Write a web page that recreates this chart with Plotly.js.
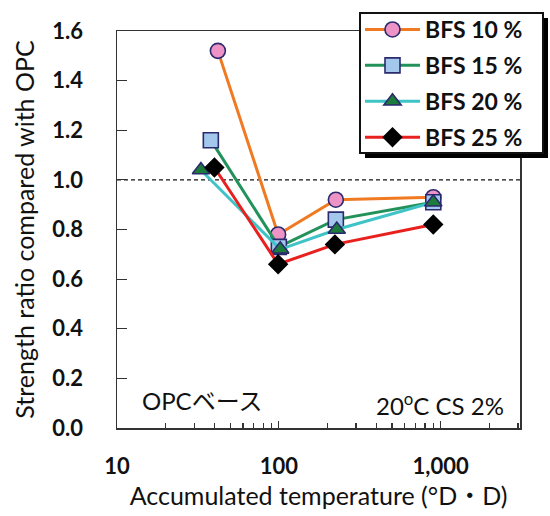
<!DOCTYPE html>
<html>
<head>
<meta charset="utf-8">
<script src="https://cdn.plot.ly/plotly-3.0.1.min.js"></script>
<style>html,body{margin:0;padding:0;background:#fff;}#chart{width:550px;height:516px;}</style>
</head>
<body>
<div id="chart"></div>
<script>
// ---- data ----
const seriesNames = ["BFS 10 %", "BFS 15 %", "BFS 20 %", "BFS 25 %"];
const bfs10X = [42, 99, 225, 900];
const bfs10Y = [1.52, 0.78, 0.92, 0.93];
const bfs15X = [38, 100, 225, 900];
const bfs15Y = [1.16, 0.73, 0.84, 0.91];
const bfs20X = [33, 102, 228, 900];
const bfs20Y = [1.04, 0.72, 0.80, 0.91];
const bfs25X = [40, 99, 222, 900];
const bfs25Y = [1.05, 0.66, 0.74, 0.82];
const xTickVals = [10, 100, 1000];
const xTickText = ["10", "100", "1,000"];
const refLineY = 1.0;

const FONT = "Lato, 'Noto Sans CJK JP', 'Noto Sans', sans-serif";
const EDGE = "#2b2a6e";

function tr(name, x, y, lineColor, symbol, fill, mline, size) {
  return {
    type: "scatter", mode: "lines+markers", name: name, x: x, y: y,
    legendgroup: name,
    line: {color: lineColor, width: 3},
    marker: {symbol: symbol, size: size, color: fill, line: {color: mline, width: 1.6}}
  };
}

const data = [
  tr(seriesNames[0], bfs10X, bfs10Y, "#f07a22", "circle", "#ee93c6", EDGE, 15),
  tr(seriesNames[1], bfs15X, bfs15Y, "#23925a", "square", "#a3c8ec", EDGE, 15),
  tr(seriesNames[2], bfs20X, bfs20Y, "#3fc3c6", "triangle-up", "#1d7b3b", EDGE, 15),
  tr(seriesNames[3], bfs25X, bfs25Y, "#e8201e", "diamond", "#000000", "#000000", 14)
];

const L = 117, R = 520, T = 31, B = 428;
const px = function (v) { return (v - L) / (R - L); };
const py = function (v) { return (B - v) / (B - T); };
// legend frame (pixels)
const boxL = 360, boxR = 543, boxT = 13, boxB = 153, sh = 5;

const layout = {
  width: 550, height: 516,
  margin: {l: L, r: 550 - R, t: T, b: 516 - B, autoexpand: false},
  paper_bgcolor: "#fff", plot_bgcolor: "#fff",
  font: {family: FONT, color: "#111"},
  showlegend: true,
  legend: {
    x: px(boxL), y: py(8), xanchor: "left", yanchor: "top",
    bgcolor: "rgba(0,0,0,0)", borderwidth: 0,
    font: {family: FONT, size: 23, color: "#111", weight: "bold"},
    itemwidth: 55, tracegroupgap: 3, traceorder: "grouped"
  },
  xaxis: {
    type: "log", range: [1, 3.49], automargin: false,
    tickvals: xTickVals, ticktext: xTickText,
    ticks: "inside", ticklen: 7, tickwidth: 1.2, tickcolor: "#333",
    minor: {ticks: "inside", ticklen: 5, tickwidth: 1.2, tickcolor: "#333", dtick: "D1", showgrid: false},
    showline: true, linecolor: "#333", linewidth: 1.5, mirror: true,
    showgrid: false, zeroline: false,
    ticklabelstandoff: 18,
    tickfont: {family: FONT, size: 22, color: "#111", weight: "bold"},
    title: {text: "Accumulated temperature (°D・D)", font: {family: FONT, size: 25, color: "#111"}, standoff: 9}
  },
  yaxis: {
    range: [0, 1.6], dtick: 0.2, tickformat: ".1f", automargin: false,
    ticks: "inside", ticklen: 10, tickwidth: 1.2, tickcolor: "#333",
    showline: true, linecolor: "#333", linewidth: 1.5, mirror: true,
    showgrid: false, zeroline: false,
    ticklabelstandoff: 28,
    tickfont: {family: FONT, size: 22, color: "#111", weight: "bold"},
    title: {text: "Strength ratio compared with OPC", font: {family: FONT, size: 25, color: "#111"}, standoff: 10}
  },
  shapes: [
    {type: "line", xref: "paper", yref: "y", x0: 0, x1: 1, y0: refLineY, y1: refLineY,
     line: {color: "#111", width: 1.4, dash: "4px,3px"}, layer: "below"},
    {type: "rect", xref: "paper", yref: "paper", x0: px(boxL + sh), x1: px(boxR + sh), y0: py(boxB + sh), y1: py(boxT + sh),
     fillcolor: "#000", line: {width: 0}, layer: "above"},
    {type: "rect", xref: "paper", yref: "paper", x0: px(boxL), x1: px(boxR), y0: py(boxB), y1: py(boxT),
     fillcolor: "#fff", line: {color: "#111", width: 2}, layer: "above"}
  ],
  annotations: [
    {text: "OPCベース", xref: "paper", yref: "paper", x: px(140), y: py(400), xanchor: "left", yanchor: "middle",
     showarrow: false, font: {family: FONT, size: 24, color: "#111"}},
    {text: "20<sup>o</sup>C CS 2%", xref: "paper", yref: "paper", x: px(506), y: py(404), xanchor: "right", yanchor: "middle",
     showarrow: false, font: {family: FONT, size: 24, color: "#111"}}
  ]
};

Plotly.newPlot("chart", data, layout, {displayModeBar: false, staticPlot: true});
</script>
</body>
</html>
